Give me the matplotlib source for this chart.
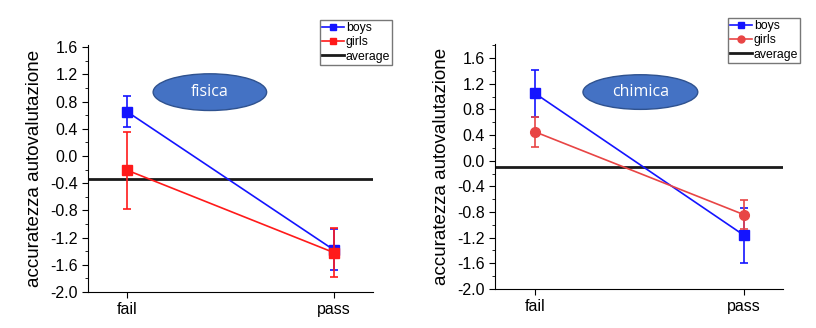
import numpy as np
import matplotlib.pyplot as plt
from matplotlib.patches import Ellipse
from matplotlib.lines import Line2D
from matplotlib.ticker import MultipleLocator

plt.rcParams['font.family'] = ['Liberation Sans', 'DejaVu Sans']

groups = ["fail", "pass"]
yticks = [-2.0, -1.6, -1.2, -0.8, -0.4, 0.0, 0.4, 0.8, 1.2, 1.6]

# fisica
fis_boys = [0.65, -1.38]
fis_boys_err = [0.23, 0.30]
fis_girls = [-0.21, -1.42]
fis_girls_err = [0.57, 0.36]
fis_avg = -0.34

# chimica
chi_boys = [1.05, -1.16]
chi_boys_err = [0.37, 0.43]
chi_girls = [0.45, -0.84]
chi_girls_err = [0.23, 0.22]
chi_avg = -0.10

BLUE = "#1414ff"

fig = plt.figure(figsize=(8.16, 3.28), dpi=100)
ax1 = fig.add_axes([0.108, 0.110, 0.349, 0.752])
ax2 = fig.add_axes([0.607, 0.119, 0.353, 0.747])

def panel(ax, boys, boys_err, girls, girls_err, avg, girl_marker, girl_color,
          ylim, title, ell_xy, leg_box):
    x = np.arange(len(groups))
    ax.axhline(avg, color="#1a1a1a", lw=2, zorder=1)
    ax.errorbar(x, girls, yerr=girls_err, color=girl_color, marker=girl_marker,
                ms=7, lw=1.2, capsize=3, capthick=1.2, zorder=3)
    ax.errorbar(x, boys, yerr=boys_err, color=BLUE, marker="s",
                ms=7, lw=1.2, capsize=3, capthick=1.2, zorder=2)
    ax.set_xlim(-0.19, 1.19)
    ax.set_ylim(*ylim)
    ax.set_xticks(x)
    ax.set_xticklabels(groups, fontsize=11.5)
    ax.set_yticks(yticks)
    ax.set_yticklabels(["%.1f" % v for v in yticks], fontsize=11.5)
    ax.yaxis.set_minor_locator(MultipleLocator(0.2))
    ax.spines["top"].set_visible(False)
    ax.spines["right"].set_visible(False)
    ax.tick_params(direction="out", length=4)
    ax.tick_params(which="minor", length=2.5)
    ax.set_ylabel("accuratezza autovalutazione", fontsize=13.5, labelpad=5)
    e = Ellipse(ell_xy, 0.55, 0.54, facecolor="#4472C4", edgecolor="#2F528F",
                lw=1, zorder=4)
    ax.add_patch(e)
    ax.text(ell_xy[0], ell_xy[1], title, color="white", ha="center", va="center",
            fontsize=11.5, zorder=5, family=["Open Sans", "DejaVu Sans"])
    handles = [Line2D([], [], color=BLUE, marker="s", ms=5, lw=1.2),
               Line2D([], [], color=girl_color, marker=girl_marker, ms=5, lw=1.2),
               Line2D([], [], color="#1a1a1a", lw=2)]
    fig.legend(handles, ["boys", "girls", "average"], loc="upper left",
               bbox_to_anchor=leg_box, fontsize=8.8, frameon=True, fancybox=False,
               edgecolor="#555555", handlelength=1.8, borderpad=0.15,
               labelspacing=0.2, handletextpad=0.15, borderaxespad=0)

panel(ax1, fis_boys, fis_boys_err, fis_girls, fis_girls_err, fis_avg, "s",
      "#ff1a1a", (-2.0, 1.63), "fisica", (0.40, 0.94), (320 / 816, 1 - 20 / 328))
panel(ax2, chi_boys, chi_boys_err, chi_girls, chi_girls_err, chi_avg, "o",
      "#e84545", (-2.0, 1.82), "chimica", (0.505, 1.07), (728 / 816, 1 - 18 / 328))

fig.savefig("out.png", dpi=100)
